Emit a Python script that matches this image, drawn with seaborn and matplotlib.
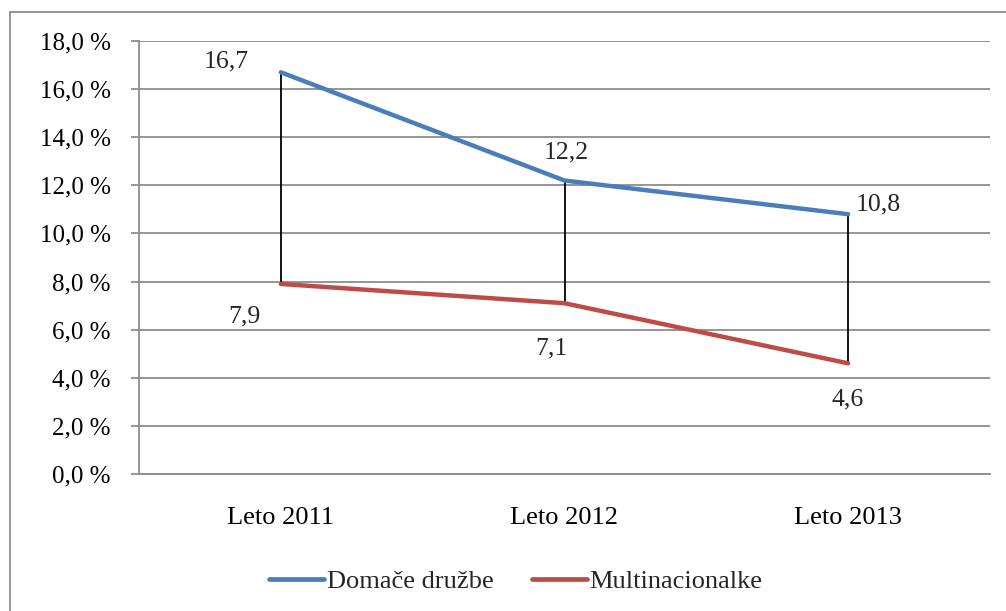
import matplotlib
matplotlib.use("Agg")
import matplotlib.pyplot as plt
import matplotlib.patches as mpatches
import pandas as pd
import seaborn as sns

# Data
years = ["Leto 2011", "Leto 2012", "Leto 2013"]
domace = [16.7, 12.2, 10.8]
multinacionalke = [7.9, 7.1, 4.6]
series_names = ["Domače družbe", "Multinacionalke"]
y_ticks = [0, 2, 4, 6, 8, 10, 12, 14, 16, 18]

df = pd.DataFrame({
    "leto": years * 2,
    "delez": domace + multinacionalke,
    "skupina": [series_names[0]] * 3 + [series_names[1]] * 3,
})

sns.set_theme(style="white")
plt.rcParams["font.family"] = ["Liberation Serif", "DejaVu Serif"]

FS = 18.5

fig = plt.figure(figsize=(10.06, 6.11), dpi=100)
W, H = 1006, 611
ax = fig.add_axes([139 / W, 1 - 474 / H, (990 - 139) / W, (474 - 41) / H])

# Outer chart frame
frame = mpatches.Rectangle((10 / W, -0.1), 1.2, 1 - 12 / H + 0.1,
                           transform=fig.transFigure, fill=False,
                           edgecolor="#8c8c8c", linewidth=1.3, zorder=0)
fig.patches.append(frame)

palette = {series_names[0]: "#4A7EBB", series_names[1]: "#BE4B48"}
x_idx = list(range(len(years)))
df["x"] = df["leto"].map({y: i for i, y in enumerate(years)})

# High-low connector lines
ax.vlines(x_idx, multinacionalke, domace, colors="black", linewidth=1.3, zorder=2)

sns.lineplot(data=df, x="x", y="delez", hue="skupina", palette=palette,
             linewidth=3.2, ax=ax, legend=False, zorder=3,
             solid_capstyle="round")

ax.set_xlim(-0.5, 2.5)
ax.set_ylim(0, 18)
ax.set_yticks(y_ticks)
ax.set_yticklabels([f"{v:.1f} %".replace(".", ",") for v in y_ticks], fontsize=18)
ax.set_xticks(x_idx)
ax.set_xticklabels(years, fontsize=19)
ax.set_xlabel("")
ax.set_ylabel("")

ax.grid(axis="y", color="#8c8c8c", linewidth=1.3)
ax.grid(axis="x", visible=False)
ax.set_axisbelow(True)
for side in ["top", "right"]:
    ax.spines[side].set_visible(False)
for side in ["left", "bottom"]:
    ax.spines[side].set_color("#8c8c8c")
    ax.spines[side].set_linewidth(1.3)
ax.tick_params(axis="y", which="major", direction="out", length=6,
               color="#8c8c8c", width=1.3, left=True, pad=14.4, labelcolor="black")
ax.tick_params(axis="x", length=0, pad=24, labelcolor="black")

# Value labels (offsets in pixels from the data point)
offsets_top = [(-55, 11), (2, 28), (8, 10)]
align_top = ["center", "center", "left"]
offsets_bot = [(-36, -32), (-13, -45), (-1, -36)]
for i in x_idx:
    dx, dy = offsets_top[i]
    ax.annotate(f"{domace[i]:.1f}".replace(".", ","), (i, domace[i]),
                xytext=(dx, dy), textcoords="offset pixels",
                ha=align_top[i], va="center", fontsize=FS)
    dx, dy = offsets_bot[i]
    ax.annotate(f"{multinacionalke[i]:.1f}".replace(".", ","), (i, multinacionalke[i]),
                xytext=(dx, dy), textcoords="offset pixels",
                ha="center", va="center", fontsize=FS)

handles = [plt.Line2D([], [], color=palette[n], linewidth=3.4,
                      solid_capstyle="round") for n in series_names]
fig.legend(handles, series_names, loc="center", bbox_to_anchor=(516 / W, 1 - 581 / H),
           ncol=2, frameon=False, fontsize=19, handlelength=2.08,
           handletextpad=0.11, columnspacing=1.44)

fig.savefig("out.png", dpi=100)
